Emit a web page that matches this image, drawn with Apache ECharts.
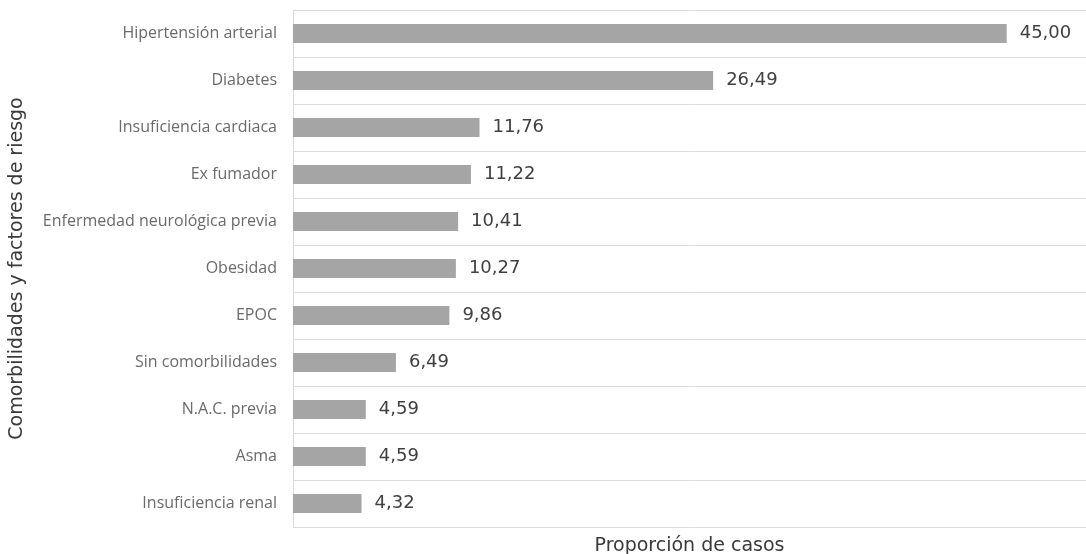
<!DOCTYPE html>
<html>
<head>
<meta charset="utf-8">
<script src="https://cdn.jsdelivr.net/npm/echarts@6/dist/echarts.min.js"></script>
<style>
html, body { margin: 0; padding: 0; background: #fff; }
#chart_con { width: 1086px; height: 554px; }
</style>
</head>
<body>
<div id="chart_con"></div>
<script>
// categorias de abajo hacia arriba (eje de categorias invertido por ECharts)
const categories = [
    'Insuficiencia renal',
    'Asma',
    'N.A.C. previa',
    'Sin comorbilidades',
    'EPOC',
    'Obesidad',
    'Enfermedad neurológica previa',
    'Ex fumador',
    'Insuficiencia cardiaca',
    'Diabetes',
    'Hipertensión arterial'
];
const proporcion = [4.32, 4.59, 4.59, 6.49, 9.86, 10.27, 10.41, 11.22, 11.76, 26.49, 45.00];

let chart = echarts.init(document.getElementById('chart_con'));
const option = {
    animation: false,
    grid: {
        left: 293,
        right: 0,
        top: 10,
        bottom: 27,
        outerBoundsMode: 'none'
    },
    xAxis: {
        type: 'value',
        min: 0,
        max: 50,
        name: 'Proporción de casos',
        nameLocation: 'middle',
        nameGap: 10,
        nameTextStyle: {
            color: '#3a3a3a',
            fontSize: 19,
            fontFamily: 'DejaVu Sans'
        },
        axisLine: { show: false },
        axisTick: { show: false },
        axisLabel: { show: false },
        splitLine: { show: false }
    },
    yAxis: {
        type: 'category',
        data: categories,
        name: 'Comorbilidades y factores de riesgo',
        nameLocation: 'middle',
        nameGap: 266,
        nameRotate: 90,
        nameTextStyle: {
            color: '#3a3a3a',
            fontSize: 19,
            fontFamily: 'DejaVu Sans'
        },
        axisLine: { show: true, lineStyle: { color: '#d9d9d9' } },
        axisTick: { show: false },
        axisLabel: {
            color: '#6a6a6a',
            fontSize: 16,
            fontFamily: 'Open Sans',
            margin: 16
        },
        splitLine: { show: true, lineStyle: { color: '#dcdcdc' } }
    },
    series: [
        {
            name: 'Proporción de casos',
            type: 'bar',
            data: proporcion,
            barWidth: 19,
            itemStyle: { color: '#a5a5a5' },
            label: {
                show: true,
                position: 'right',
                distance: 13,
                color: '#404040',
                fontSize: 18,
                fontFamily: 'DejaVu Sans',
                formatter: function (p) {
                    return p.value.toFixed(2).replace('.', ',');
                }
            }
        }
    ]
};
chart.setOption(option);
</script>
</body>
</html>
